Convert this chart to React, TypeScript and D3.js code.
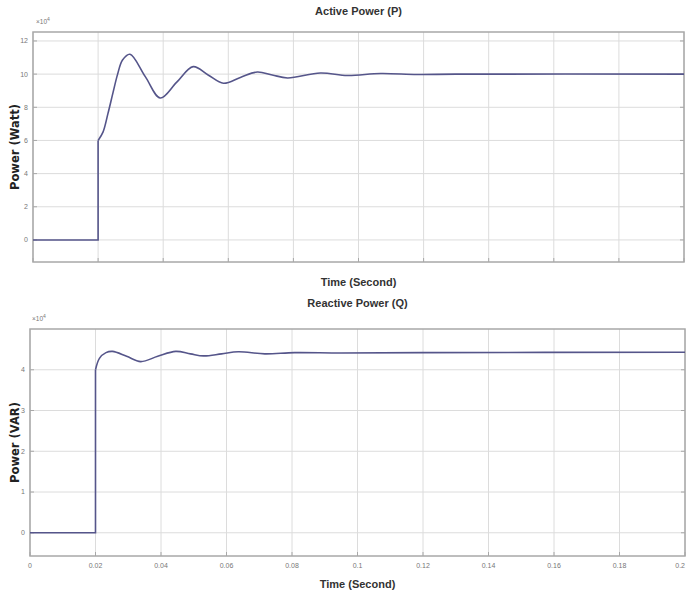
import React from "react";
import * as d3 from "d3";

const xTicks = [0, 0.02, 0.04, 0.06, 0.08, 0.1, 0.12, 0.14, 0.16, 0.18, 0.2];
const xTickLabels = ["0", "0.02", "0.04", "0.06", "0.08", "0.1", "0.12", "0.14", "0.16", "0.18", "0.2"];

const pYTicks = [0, 2, 4, 6, 8, 10, 12];
const qYTicks = [0, 1, 2, 3, 4];

const stepTime = 0.02;

const pTime = [0.02, 0.0215, 0.023, 0.0246, 0.026, 0.0275, 0.0298, 0.0345, 0.0391, 0.0441, 0.0492, 0.0538, 0.0585, 0.0637, 0.0689, 0.0735, 0.0782, 0.0883, 0.0966, 0.1068, 0.118, 0.13, 0.2];
const pValue = [6.0, 6.5, 7.6, 8.9, 10.0, 10.85, 11.2, 9.85, 8.56, 9.5, 10.45, 9.95, 9.45, 9.8, 10.13, 9.95, 9.77, 10.07, 9.92, 10.04, 9.98, 10.0, 10.0];

const qTime = [0.02, 0.0212, 0.0232, 0.0252, 0.0295, 0.0338, 0.039, 0.0445, 0.049, 0.053, 0.0585, 0.0636, 0.0717, 0.0808, 0.095, 0.12, 0.2];
const qValue = [4.0, 4.28, 4.42, 4.45, 4.33, 4.2, 4.33, 4.45, 4.39, 4.34, 4.39, 4.44, 4.39, 4.42, 4.41, 4.42, 4.43];

const LINE = "#55558a";
const GRID = "#dcdcdc";
const AXIS = "#a8a8a8";
const TICKTXT = "#777";
const NARROW = "'Liberation Sans Narrow', 'Arial Narrow', 'Liberation Sans', sans-serif";

type PanelProps = {
  x0: number; x1: number; y0: number; y1: number;
  yDomain: [number, number];
  yTicks: number[];
  times: number[]; values: number[];
  title: string; titleY: number;
  ylabel: string;
  xlabelY: number;
  showXTickLabels: boolean;
  expX: number; expY: number;
};

function Panel(p: PanelProps) {
  const xs = d3.scaleLinear().domain([0, 0.2]).range([p.x0, p.x1]);
  const ys = d3.scaleLinear().domain(p.yDomain).range([p.y1, p.y0]);
  const pre = d3.line<[number, number]>().x(d => xs(d[0])).y(d => ys(d[1]))([[0, 0], [stepTime, 0], [stepTime, p.values[0]]]) || "";
  const pts: [number, number][] = p.times.map((t, i) => [t, p.values[i]]);
  const post = d3.line<[number, number]>().x(d => xs(d[0])).y(d => ys(d[1])).curve(d3.curveCatmullRom.alpha(0.5))(pts) || "";
  const cx = (p.x0 + p.x1) / 2;
  return (
    <g>
      {xTicks.map((t, i) => (
        <line key={"gx" + i} x1={xs(t)} x2={xs(t)} y1={p.y0} y2={p.y1} stroke={GRID} strokeWidth={1} />
      ))}
      {p.yTicks.map((v, i) => (
        <line key={"gy" + i} x1={p.x0} x2={p.x1} y1={ys(v)} y2={ys(v)} stroke={GRID} strokeWidth={1} />
      ))}
      <rect x={p.x0} y={p.y0} width={p.x1 - p.x0} height={p.y1 - p.y0} fill="none" stroke={AXIS} strokeWidth={1.5} />
      {p.yTicks.map((v, i) => (
        <g key={"ty" + i}>
          <line x1={p.x0} x2={p.x0 + 4} y1={ys(v)} y2={ys(v)} stroke={AXIS} />
          <line x1={p.x1} x2={p.x1 - 4} y1={ys(v)} y2={ys(v)} stroke={AXIS} />
          <text x={p.x0 - 5} y={ys(v)} dy="0.35em" textAnchor="end" fontSize={7} fill={TICKTXT} fontFamily={NARROW}>{v}</text>
        </g>
      ))}
      {xTicks.map((t, i) => {
        const last = i === xTicks.length - 1;
        return (
          <g key={"tx" + i}>
            <line x1={xs(t)} x2={xs(t)} y1={p.y1} y2={p.y1 - 4} stroke={AXIS} />
            {p.showXTickLabels && (
              <text x={last ? 685 : xs(t)} y={p.y1 + 12} textAnchor={last ? "end" : "middle"} fontSize={7} fill={TICKTXT} fontFamily={NARROW}>{xTickLabels[i]}</text>
            )}
          </g>
        );
      })}
      <text x={p.expX} y={p.expY} fontSize={6.5} fill={TICKTXT} fontFamily={NARROW}>
        ×10<tspan dy={-3} fontSize={5}>4</tspan>
      </text>
      <path d={pre} fill="none" stroke={LINE} strokeWidth={1.6} />
      <path d={post} fill="none" stroke={LINE} strokeWidth={1.6} />
      <text x={cx} y={p.titleY} textAnchor="middle" fontSize={11} fontWeight="bold" fill="#333" fontFamily={NARROW}>{p.title}</text>
      <text x={cx} y={p.xlabelY} textAnchor="middle" fontSize={11} fontWeight="bold" fill="#333" fontFamily={NARROW}>Time (Second)</text>
      <text transform={`translate(19,${(p.y0 + p.y1) / 2}) rotate(-90)`} textAnchor="middle" fontSize={11.5} fontWeight="bold" fill="#222" fontFamily="'DejaVu Sans', sans-serif">{p.ylabel}</text>
    </g>
  );
}

export default function App() {
  return (
    <svg width={686} height={595} style={{ position: "absolute", left: 0, top: 0, background: "#fff" }}>
      <rect x={0} y={0} width={686} height={595} fill="#fff" />
      <Panel x0={33} x1={684} y0={32} y1={262} yDomain={[-1.33, 12.54]} yTicks={pYTicks}
        times={pTime} values={pValue} title="Active Power (P)" titleY={15} ylabel="Power (Watt)"
        xlabelY={286} showXTickLabels={false} expX={36} expY={24} />
      <Panel x0={30} x1={685} y0={329} y1={556} yDomain={[-0.57, 5.0]} yTicks={qYTicks}
        times={qTime} values={qValue} title="Reactive Power (Q)" titleY={307} ylabel="Power (VAR)"
        xlabelY={588} showXTickLabels={true} expX={32} expY={321} />
    </svg>
  );
}
